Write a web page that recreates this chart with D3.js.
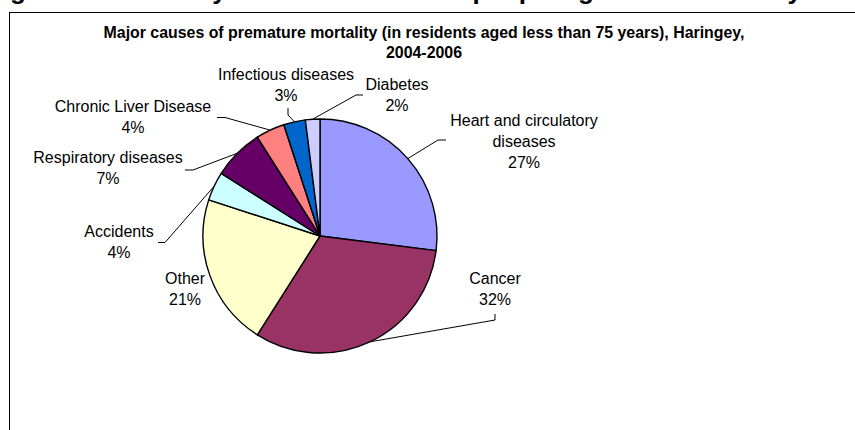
<!DOCTYPE html>
<html>
<head>
<meta charset="utf-8">
<script src="https://cdn.jsdelivr.net/npm/d3@7"></script>
<style>
  html, body { margin: 0; padding: 0; background: #fff; }
  svg { display: block; font-family: "Liberation Sans", Arial, sans-serif; }
</style>
</head>
<body>
<svg id="chart" width="855" height="430"></svg>
<script>
// Premature mortality by cause, Haringey 2004-2006 (% of deaths under 75)
const categories = [
  "Heart and circulatory diseases",
  "Cancer",
  "Other",
  "Accidents",
  "Respiratory diseases",
  "Chronic Liver Disease",
  "Infectious diseases",
  "Diabetes"
];
const shares = [27, 32, 21, 4, 7, 4, 3, 2];
const sliceColours = ["#9999FF", "#993366", "#FFFFCC", "#CCFFFF", "#660066", "#FF8080", "#0066CC", "#CCCCFF"];

const pageHeading = "Figure 12: Mortality from all causes for people aged less than 75 years";
const chartTitle = ["Major causes of premature mortality (in residents aged less than 75 years), Haringey,", "2004-2006"];

// Label placement: text centre, first baseline, wrapped name lines, leader elbow points
const labelLayout = {
  "Heart and circulatory diseases": { x: 524, y: 126, lines: ["Heart and circulatory", "diseases"], leader: [[446, 140], [438, 140]] },
  "Cancer":                { x: 495, y: 284, lines: ["Cancer"], leader: [[495, 314], [495, 320]] },
  "Other":                 { x: 185, y: 284, lines: ["Other"], leader: null },
  "Accidents":             { x: 119, y: 237, lines: ["Accidents"], leader: [[158, 242.5], [165, 242.5]] },
  "Respiratory diseases":  { x: 108, y: 163, lines: ["Respiratory diseases"], leader: [[185, 170], [193, 170]] },
  "Chronic Liver Disease": { x: 133, y: 112, lines: ["Chronic Liver Disease"], leader: [[217, 117.5], [225, 117.5]] },
  "Infectious diseases":   { x: 286, y: 80, lines: ["Infectious diseases"], leader: [[288, 108], [288, 115]] },
  "Diabetes":              { x: 397, y: 90, lines: ["Diabetes"], leader: [[363, 95], [356, 95]] }
};

const svg = d3.select("#chart");

// Document heading running off the top of the page (only descenders show)
svg.append("text")
  .attr("x", -13).attr("y", -1)
  .attr("font-size", 26).attr("font-weight", "bold")
  .attr("fill", "#000")
  .text(pageHeading);

// Chart frame
svg.append("rect")
  .attr("x", 9.5).attr("y", 12.5)
  .attr("width", 900).attr("height", 500)
  .attr("fill", "#fff").attr("stroke", "#000").attr("stroke-width", 1);

// Chart title
svg.append("g").selectAll("text")
  .data(chartTitle)
  .join("text")
  .attr("x", 424).attr("y", (d, i) => 38 + i * 20)
  .attr("text-anchor", "middle")
  .attr("font-size", 15.9).attr("font-weight", "bold")
  .text(d => d);

const cx = 320, cy = 236, radius = 117;

const data = categories.map((c, i) => ({ name: c, value: shares[i], colour: sliceColours[i] }));

const pie = d3.pie().value(d => d.value).sort(null).startAngle(0).endAngle(2 * Math.PI);
const arcs = pie(data);

const arc = d3.arc().innerRadius(0).outerRadius(radius);
const edge = d3.arc().innerRadius(radius).outerRadius(radius);

const g = svg.append("g").attr("transform", `translate(${cx},${cy})`);

g.selectAll("path.slice")
  .data(arcs)
  .join("path")
  .attr("class", "slice")
  .attr("d", arc)
  .attr("fill", d => d.data.colour)
  .attr("stroke", "#000")
  .attr("stroke-width", 1.4)
  .attr("stroke-linejoin", "round");

// Leader lines from label to slice edge
const line = d3.line();
svg.append("g").selectAll("path.leader")
  .data(arcs.filter(d => labelLayout[d.data.name].leader))
  .join("path")
  .attr("class", "leader")
  .attr("fill", "none")
  .attr("stroke", "#000")
  .attr("stroke-width", 1)
  .attr("d", d => {
    const [ex, ey] = edge.centroid(d);
    const pts = labelLayout[d.data.name].leader.concat([[cx + ex, cy + ey]]);
    return line(pts);
  });

// Slice labels: name lines then percentage
const labels = svg.append("g")
  .attr("font-size", 16)
  .attr("fill", "#000")
  .attr("text-anchor", "middle");

arcs.forEach(d => {
  const L = labelLayout[d.data.name];
  const lines = L.lines.concat([d3.format("d")(d.data.value) + "%"]);
  labels.append("text")
    .selectAll("tspan")
    .data(lines)
    .join("tspan")
    .attr("x", L.x)
    .attr("y", (t, i) => L.y + i * 21)
    .text(t => t);
});
</script>
</body>
</html>
